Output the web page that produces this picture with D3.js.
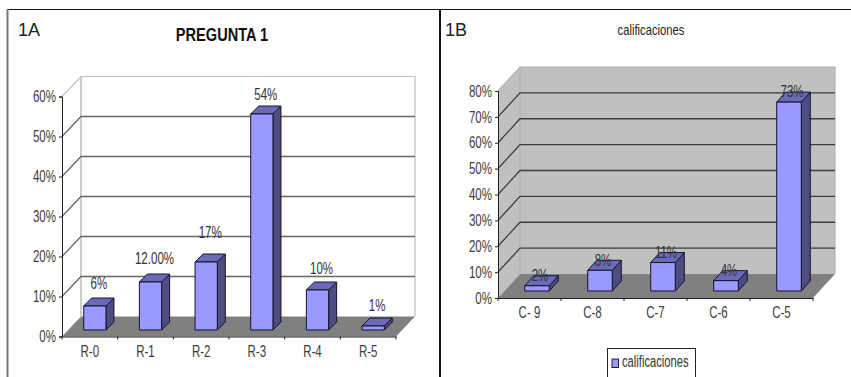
<!DOCTYPE html>
<html>
<head>
<meta charset="utf-8">
<script src="https://cdn.jsdelivr.net/npm/d3@7"></script>
<style>
  html, body { margin: 0; padding: 0; background: #fff; overflow: hidden; }
  svg { display: block; }
  text { font-family: "Liberation Sans", sans-serif; }
</style>
</head>
<body>
<svg id="chart" width="851" height="377"></svg>
<script>
// Question 1 responses
const categoriesA = ["R-0", "R-1", "R-2", "R-3", "R-4", "R-5"];
const valuesA = [6, 12, 17, 54, 10, 1];
const labelsA = ["6%", "12.00%", "17%", "54%", "10%", "1%"];
const ticksA = [0, 10, 20, 30, 40, 50, 60];

// Grades
const categoriesB = ["C- 9", "C-8", "C-7", "C-6", "C-5"];
const valuesB = [2, 8, 11, 4, 73];
const labelsB = ["2%", "8%", "11%", "4%", "73%"];
const ticksB = [0, 10, 20, 30, 40, 50, 60, 70, 80];

const svg = d3.select("#chart");

const FRONT = "#9999ff", SIDE = "#4d4d80", TOP = "#6a6ab8", FLOOR = "#808080";

// Condenses a text selection horizontally, keeping its anchor point.
function condense(sel, k) {
  sel.each(function () {
    this.setAttribute("lengthAdjust", "spacingAndGlyphs");
    this.setAttribute("textLength", this.getComputedTextLength() * k);
  });
}

function column3d(cfg) {
  const g = svg.append("g");
  const x = d3.scaleBand().domain(cfg.categories).range([cfg.left, cfg.right]);
  const y = d3.scaleLinear().domain([0, cfg.max]).range([cfg.bottom, cfg.top]);
  const [dx, dy] = cfg.depth;
  const path = pts => d3.line()(pts) + "Z";

  // back wall, side wall, floor
  g.append("path")
    .attr("d", path([[cfg.left + dx, y(cfg.max) - dy], [cfg.right + dx, y(cfg.max) - dy], [cfg.right + dx, y(0) - dy], [cfg.left + dx, y(0) - dy]]))
    .attr("fill", cfg.wall).attr("stroke", "none");
  g.append("path")
    .attr("d", path([[cfg.left, y(cfg.max)], [cfg.left + dx, y(cfg.max) - dy], [cfg.left + dx, y(0) - dy], [cfg.left, y(0)]]))
    .attr("fill", cfg.sideWall).attr("stroke", "none");
  g.append("path")
    .attr("d", `M${cfg.left},${y(cfg.max)}L${cfg.left + dx},${y(cfg.max) - dy}H${cfg.right + dx}V${y(0) - dy}`)
    .attr("fill", "none").attr("stroke", cfg.wallEdge).attr("stroke-width", 1.2);
  g.append("line")
    .attr("x1", cfg.left + dx).attr("x2", cfg.left + dx)
    .attr("y1", y(cfg.max) - dy).attr("y2", y(0) - dy)
    .attr("stroke", cfg.wallEdge).attr("stroke-width", 1.6);

  // gridlines wrapping the side and back walls
  g.selectAll(".grid").data(cfg.ticks.filter(t => t > 0 && t < cfg.max)).join("path")
    .attr("fill", "none").attr("stroke", cfg.grid).attr("stroke-width", 1.3)
    .attr("d", t => `M${cfg.left},${y(t)}L${cfg.left + dx},${y(t) - dy}H${cfg.right + dx}`);

  g.append("path")
    .attr("d", path([[cfg.left, y(0)], [cfg.left + dx, y(0) - dy], [cfg.right + dx, y(0) - dy], [cfg.right, y(0)]]))
    .attr("fill", FLOOR);

  // columns
  const bw = x.bandwidth() * cfg.barRatio;
  const [ox, oy] = cfg.barOffset;
  const [bx, by] = cfg.barDepth;
  const bars = g.selectAll(".bar").data(cfg.categories).join("g");
  const left = c => x(c) + x.bandwidth() / 2 - bw / 2 + ox;
  const val = c => cfg.values[cfg.categories.indexOf(c)];
  const common = s => s.attr("stroke", "#14142e").attr("stroke-width", 1).attr("stroke-linejoin", "round");
  bars.append("path").call(common).attr("fill", SIDE)
    .attr("d", c => path([[left(c) + bw, y(val(c)) - oy], [left(c) + bw + bx, y(val(c)) - oy - by], [left(c) + bw + bx, y(0) - oy - by], [left(c) + bw, y(0) - oy]]));
  bars.append("path").call(common).attr("fill", TOP)
    .attr("d", c => path([[left(c), y(val(c)) - oy], [left(c) + bx, y(val(c)) - oy - by], [left(c) + bw + bx, y(val(c)) - oy - by], [left(c) + bw, y(val(c)) - oy]]));
  bars.append("rect").call(common).attr("fill", FRONT)
    .attr("x", left).attr("width", bw)
    .attr("y", c => y(val(c)) - oy)
    .attr("height", c => y(0) - y(val(c)));

  // axes
  const yAxis = g.append("g").attr("transform", `translate(${cfg.left},0)`)
    .call(d3.axisLeft(y).tickValues(cfg.ticks).tickFormat(d => d + "%").tickSize(3).tickPadding(3));
  const xAxis = g.append("g").attr("transform", `translate(0,${y(0)})`)
    .call(d3.axisBottom(x).tickSize(0).tickPadding(cfg.catPad));
  xAxis.selectAll(".edge").data(d3.range(cfg.categories.length + 1)).join("line")
    .attr("x1", i => cfg.left + i * x.step()).attr("x2", i => cfg.left + i * x.step())
    .attr("y1", 0).attr("y2", 3).attr("stroke", "#222");
  for (const a of [yAxis, xAxis]) {
    a.selectAll("path,.tick line").attr("stroke", "#222");
    a.selectAll("text").attr("fill", "#3c3c3c").style("font-size", cfg.fontSize + "px")
      .style("font-family", '"Liberation Sans", sans-serif')
      .call(condense, 0.72);
  }

  // value labels, each with its own small lift above the column
  g.selectAll(".val").data(cfg.categories).join("text")
    .attr("x", c => x(c) + x.bandwidth() / 2 + ox + cfg.labelOffset[0])
    .attr("y", (c, i) => y(val(c)) - oy + cfg.labelOffset[1] + cfg.labelLift[i])
    .attr("text-anchor", "middle").attr("dominant-baseline", "middle")
    .attr("fill", "#333333").style("font-size", cfg.fontSize + "px")
    .text((c, i) => cfg.labels[i])
    .call(condense, 0.72);
}

column3d({
  categories: categoriesA, values: valuesA, labels: labelsA, ticks: ticksA, max: 60,
  left: 62, right: 396, bottom: 336.5, top: 96.5, depth: [19, 20],
  wall: "#ffffff", sideWall: "#ffffff", wallEdge: "#c0c0c0", grid: "#666666",
  barRatio: 0.4, barOffset: [5, 6.5], barDepth: [8, 8],
  labelOffset: [4, -24], labelLift: [3, 2, -4, 6, 4, 5], fontSize: 16, catPad: 9
});

column3d({
  categories: categoriesB, values: valuesB, labels: labelsB, ticks: ticksB, max: 80,
  left: 498, right: 813, bottom: 298, top: 91, depth: [22, 24],
  wall: "#c0c0c0", sideWall: "#c0c0c0", wallEdge: "#b4b4b4", grid: "#3c3c3c",
  barRatio: 0.39, barOffset: [7.5, 7], barDepth: [9, 10],
  labelOffset: [3, -9], labelLift: [0, 0, 0, 0, 0], fontSize: 16, catPad: 9
});

// panel frames
svg.append("line").attr("x1", 7).attr("x2", 851).attr("y1", 9.5).attr("y2", 9.5).attr("stroke", "#111").attr("stroke-width", 1.2);
svg.append("line").attr("x1", 7.5).attr("x2", 7.5).attr("y1", 9).attr("y2", 377).attr("stroke", "#777").attr("stroke-width", 2);
svg.append("line").attr("x1", 440).attr("x2", 440).attr("y1", 9).attr("y2", 377).attr("stroke", "#111").attr("stroke-width", 2);

// panel tags and titles
svg.append("text").attr("x", 18).attr("y", 36).attr("fill", "#222").style("font-size", "18px").text("1A");
svg.append("text").attr("x", 445).attr("y", 36).attr("fill", "#222").style("font-size", "18px").text("1B");
svg.append("text").attr("x", 222).attr("y", 41).attr("text-anchor", "middle").attr("fill", "#111").attr("font-weight", "bold").style("font-size", "18px").text("PREGUNTA 1").call(condense, 0.81);
svg.append("text").attr("x", 651).attr("y", 35).attr("text-anchor", "middle").attr("fill", "#222").style("font-size", "15px").text("calificaciones").call(condense, 0.75);

// legend
const legend = svg.append("g");
legend.append("rect").attr("x", 607.5).attr("y", 348.5).attr("width", 88).attr("height", 30).attr("fill", "#fff").attr("stroke", "#222");
legend.append("rect").attr("x", 612).attr("y", 359).attr("width", 6.5).attr("height", 8.5).attr("fill", FRONT).attr("stroke", "#222");
legend.append("text").attr("x", 622).attr("y", 367).attr("fill", "#333").style("font-size", "16px").text("calificaciones").call(condense, 0.7);
</script>
</body>
</html>
